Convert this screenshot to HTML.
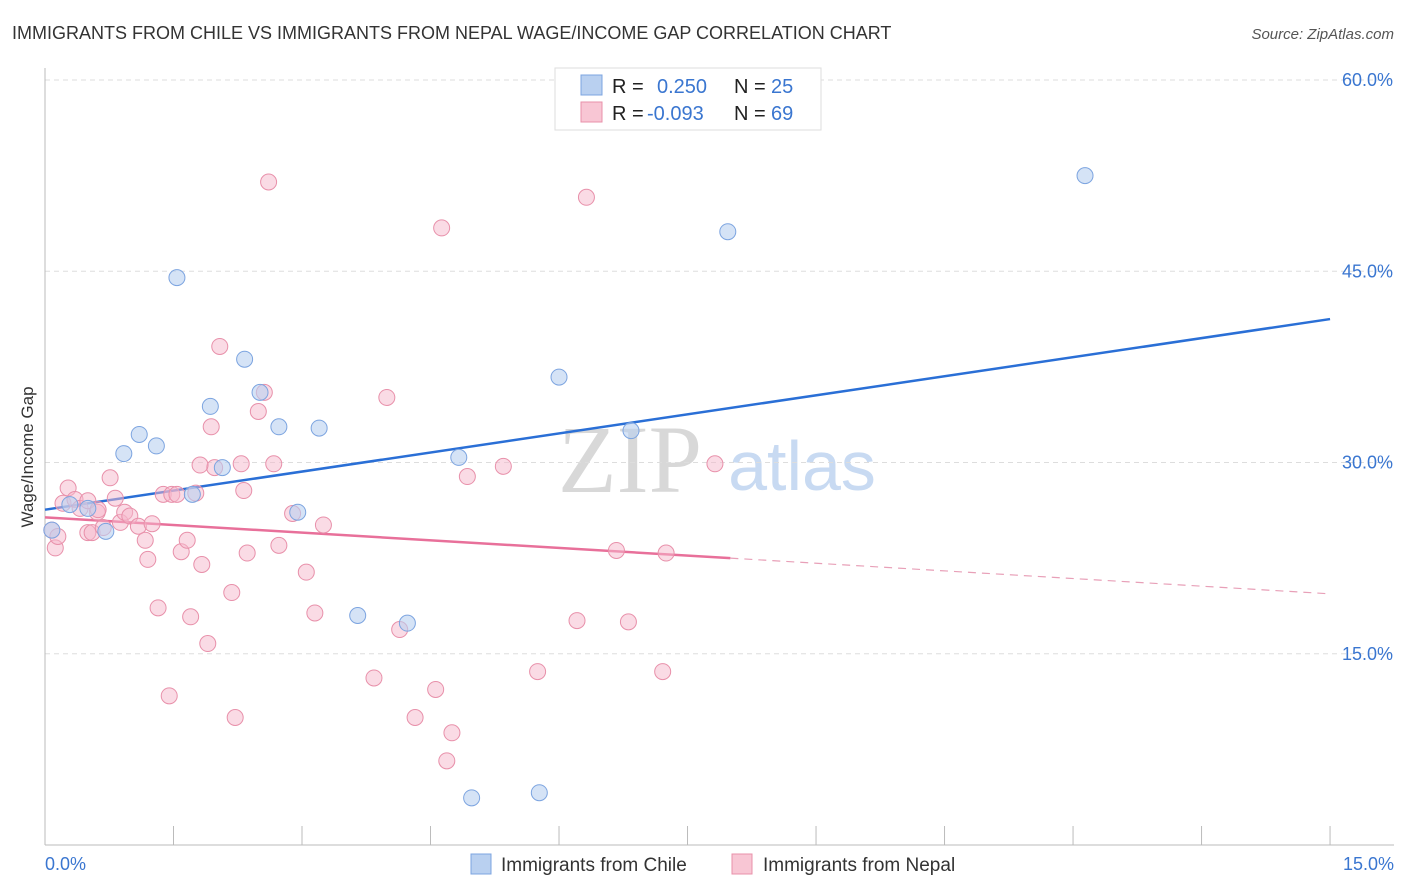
<!DOCTYPE html>
<html><head><meta charset="utf-8"><style>
body{margin:0;background:#fff;font-family:"Liberation Sans",sans-serif;}
svg{display:block}
</style></head><body>
<svg id="chart" width="1406" height="892" xmlns="http://www.w3.org/2000/svg">
<text x="12" y="39" font-size="18" fill="#333">IMMIGRANTS FROM CHILE VS IMMIGRANTS FROM NEPAL WAGE/INCOME GAP CORRELATION CHART</text>
<text x="1394" y="39" font-size="15" fill="#555" text-anchor="end" font-style="italic">Source: ZipAtlas.com</text>
<text transform="translate(33,457) rotate(-90)" font-size="17" fill="#333" text-anchor="middle">Wage/Income Gap</text>
<g>
<text x="630" y="492" font-size="96" fill="#d8d8d8" font-family="Liberation Serif,serif" text-anchor="middle">ZIP</text>
<text x="802" y="490" font-size="70" fill="#c8daf2" text-anchor="middle">atlas</text>
</g>
<g id="grid"></g><g id="axes"></g><g id="lines"></g><g id="pts"></g>
<g>
<rect x="555" y="68" width="266" height="62" fill="#fff" stroke="#ddd"/>
<rect x="581" y="75" width="21" height="20" fill="#b9d0f0" stroke="#7ca4e0"/>
<rect x="581" y="102" width="21" height="20" fill="#f8c6d4" stroke="#e890aa"/>
<text x="612" y="93" font-size="20" fill="#222">R = </text><text x="657" y="93" font-size="20" fill="#3a76d0">0.250</text>
<text x="734" y="93" font-size="20" fill="#222">N = </text><text x="771" y="93" font-size="20" fill="#3a76d0">25</text>
<text x="612" y="120" font-size="20" fill="#222">R = </text><text x="647" y="120" font-size="20" fill="#3a76d0">-0.093</text>
<text x="734" y="120" font-size="20" fill="#222">N = </text><text x="771" y="120" font-size="20" fill="#3a76d0">69</text>
</g>
<g>
<rect x="471" y="854" width="20" height="20" fill="#b9d0f0" stroke="#7ca4e0"/>
<text x="501" y="871" font-size="19" fill="#333">Immigrants from Chile</text>
<rect x="732" y="854" width="20" height="20" fill="#f8c6d4" stroke="#e890aa"/>
<text x="763" y="871" font-size="19" fill="#333">Immigrants from Nepal</text>
</g>
</svg>
<script>
const xTicks=[0,1.5,3,4.5,6,7.5,9,10.5,12,13.5,15];
const yTicks=[15,30,45,60];
const chileX=[.08,.29,.50,.71,.92,1.10,1.30,1.54,1.72,1.93,2.07,2.33,2.51,2.73,2.95,3.20,3.65,4.23,4.83,4.98,5.77,6.00,6.84,7.97,12.14];
const chileY=[24.7,26.7,26.4,24.6,30.7,32.2,31.3,44.5,27.5,34.4,29.6,38.1,35.5,32.8,26.1,32.7,18.0,17.4,30.4,3.7,4.1,36.7,32.5,48.1,52.5];
const nepalX=[.12,.08,.15,.27,.21,.35,.41,.50,.55,.61,.68,.76,.82,.88,.93,.99,1.09,1.17,1.20,1.25,1.32,1.38,1.45,1.48,1.54,1.59,1.66,1.70,1.76,1.83,1.90,1.94,1.98,2.04,2.18,2.22,2.29,2.32,2.36,2.49,2.56,2.61,2.67,2.73,2.89,3.05,3.15,3.25,3.84,3.99,4.14,4.32,4.56,4.63,4.69,4.75,4.93,5.35,5.75,6.21,6.32,6.67,6.81,7.21,7.25,7.82,.50,1.81,.62];
const nepalY=[23.3,24.7,24.2,28.0,26.8,27.1,26.4,24.5,24.5,26.1,24.9,28.8,27.2,25.3,26.1,25.8,25.0,23.9,22.4,25.2,18.6,27.5,11.7,27.5,27.5,23.0,23.9,17.9,27.6,22.0,15.8,32.8,29.6,39.1,19.8,10.0,29.9,27.8,22.9,34.0,35.5,52.0,29.9,23.5,26.0,21.4,18.2,25.1,13.1,35.1,16.9,10.0,12.2,48.4,6.6,8.8,28.9,29.7,13.6,17.6,50.8,23.1,17.5,13.6,22.9,29.9,27.0,29.8,26.3];
const chileTrend=[26.3,41.25];
const nepalTrend=[25.7,19.7];
const nepalSolidEnd=8.0;
const X=v=>45+v*85.67, Y=v=>845-v*12.75;
const NS='http://www.w3.org/2000/svg';
function mk(tag,attrs,parent){const e=document.createElementNS(NS,tag);for(const k in attrs)e.setAttribute(k,attrs[k]);document.getElementById(parent).appendChild(e);return e;}
yTicks.forEach(t=>{
 const l=mk('line',{x1:45,x2:1394,y1:Y(t),y2:Y(t),stroke:'#ddd','stroke-dasharray':'5,4'},'grid');
 
 
 const tx=mk('text',{x:1393,y:Y(t)+6,'font-size':18,fill:'#3a76d0','text-anchor':'end'},'axes');tx.textContent=t.toFixed(1)+'%';
 
 
});
const ax=mk('line',{x1:45,x2:45,y1:68,y2:845,stroke:'#bbb'},'axes');


const bx=mk('line',{x1:45,x2:1394,y1:845,y2:845,stroke:'#bbb'},'axes');


xTicks.forEach(t=>{const l=mk('line',{x1:X(t),x2:X(t),y1:826,y2:845,stroke:'#bbb'},'axes');
 
 });
[[0,'start',45],[15,'end',1394]].forEach(([t,a,px])=>{const tx=mk('text',{x:px,y:870,'font-size':18,fill:'#3a76d0','text-anchor':a},'axes');tx.textContent=t.toFixed(1)+'%';
 
 });
const ny=x=>nepalTrend[0]+(nepalTrend[1]-nepalTrend[0])*x/15;
let l1=mk('line',{x1:X(0),y1:Y(chileTrend[0]),x2:X(15),y2:Y(chileTrend[1]),stroke:'#2a6fd6','stroke-width':2.5},'lines');


let l2=mk('line',{x1:X(0),y1:Y(ny(0)),x2:X(nepalSolidEnd),y2:Y(ny(nepalSolidEnd)),stroke:'#e8709a','stroke-width':2.5},'lines');


let l3=mk('line',{x1:X(nepalSolidEnd),y1:Y(ny(nepalSolidEnd)),x2:X(15),y2:Y(ny(15)),stroke:'#e8a0b8','stroke-width':1.2,'stroke-dasharray':'8,6'},'lines');


nepalX.forEach((x,i)=>{const c=mk('circle',{cx:X(x),cy:Y(nepalY[i]),r:8,fill:'#f5b8cb','fill-opacity':0.5,stroke:'#e890aa','stroke-width':1},'pts');
 
 });
chileX.forEach((x,i)=>{const c=mk('circle',{cx:X(x),cy:Y(chileY[i]),r:8,fill:'#b9d0f0','fill-opacity':0.6,stroke:'#7ca4e0','stroke-width':1},'pts');
 
 });
</script>
</body></html>
